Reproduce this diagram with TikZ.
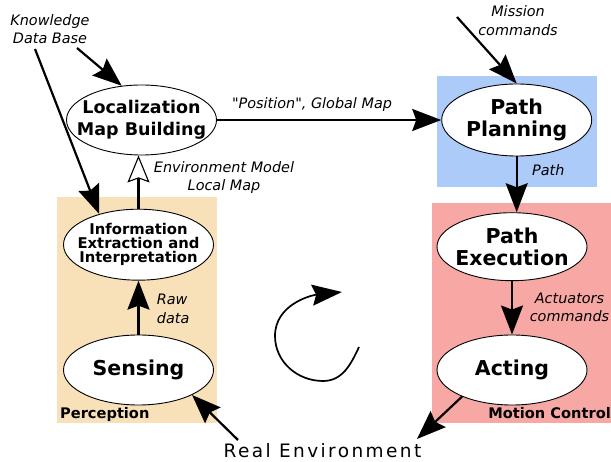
\documentclass[tikz,border=0pt]{standalone}
\usepackage{fontspec}
\setmainfont{DejaVu Sans}[Ligatures=TeXOff]
\usetikzlibrary{arrows.meta,shapes.geometric}

\definecolor{planblue}{HTML}{ADCBF9}
\definecolor{motionred}{HTML}{F7A8A4}
\definecolor{perceptan}{HTML}{F8E1B8}
\newcommand\tiplength{29pt}
\newcommand\tipwidth{22pt}

\begin{document}
\begin{tikzpicture}[x=1pt,y=1pt,
    proc/.style={ellipse,draw,fill=white,line width=0.9pt,minimum width=150pt,
      minimum height=70pt,inner xsep=-12pt,inner ysep=0pt,align=center},
    big/.style={font=\bfseries\fontsize{20.5}{22.5}\selectfont},
    lbl/.style={font=\itshape\fontsize{14.4}{18.5}\selectfont,inner sep=0pt,align=center},
    boxlbl/.style={font=\bfseries\fontsize{14.6}{16}\selectfont,inner sep=0pt},
    flow/.style={line width=2.2pt,-{Stealth[length=\tiplength,width=\tipwidth,inset=4pt]}},
  ]
  \useasboundingbox (0,0) rectangle (611,461);

  % coloured blocks
  \fill[perceptan] (57.3,37.7) rectangle (217,264.3);
  \fill[planblue] (437,274.3) rectangle (596.7,385);
  \fill[motionred] (432,37.7) rectangle (611,257.7);
  \node[boxlbl,anchor=base west] (perc) at (60,42) {Perception};
  \node[boxlbl,anchor=base east] (motion) at (611,42) {Motion Control};

  % processes
  \node[proc,font=\bfseries\fontsize{17.5}{22}\selectfont] (loc) at (141.5,341) {Localization\\Map Building};
  \node[proc,big,minimum height=72pt] (plan) at (516.7,341) {Path\\Planning};
  \node[proc,font=\bfseries\fontsize{14.8}{13.8}\selectfont,minimum height=71pt] (info) at (138.5,216.3)
    {Information\\Extraction and\\Interpretation};
  \node[proc,big] (sens) at (138.5,91) {Sensing};
  \node[proc,big,minimum height=68pt] (exec) at (512,214.3) {Path\\Execution};
  \node[proc,big] (act) at (512,91) {Acting};
  \node[font=\fontsize{18.5}{20}\selectfont\addfontfeature{LetterSpace=13},inner sep=0pt,anchor=base]
    (real) at (322.5,3.7) {Real Environment};

  % labels
  \node[lbl] (kb) at (50,431.7) {Knowledge\\Data Base};
  \node[lbl] (mission) at (518,440.2) {Mission\\commands};
  \node[lbl] (envmodel) at (224,283.4) {Environment Model\\Local Map};
  \node[lbl,align=left,anchor=west] (raw) at (156.7,152) {Raw\\data};
  \node[lbl] (actcmd) at (569.5,153.8) {Actuators\\commands};
  \node[lbl,anchor=base west] (pathlbl) at (532,285) {Path};
  \node[lbl,anchor=base] (poslbl) at (312,352.7) {"Position", Global Map};

  % connectors
  \coordinate (kbA) at (35,412);
  \coordinate (kbB) at (77,413);
  \coordinate (missionA) at (457,444);
  \draw[flow] (kbA) -- (info.142);
  \draw[flow] (kbB) -- (loc.120);
  \draw[flow] (missionA) -- (plan.north);
  \draw[flow] (loc.east) -- (plan.west);
  \draw[flow] (plan.south) -- (plan.south |- exec.north);
  \draw[flow] (exec.south) -- (act.north);
  \draw[flow] (sens.north) -- (info.south);
  \draw[line width=2.2pt,-{Stealth[open,fill=white,line width=1.1pt,length=27pt,width=22pt,inset=4pt]}]
    (info.north) -- (info.north |- loc.south);
  \draw[flow] (act.208) -- ([shift={(94.5pt,18.3pt)}]real.base);
  \draw[flow] ([shift={(-84.5pt,17.3pt)}]real.base) -- (sens.-25);

  % cycle
  \draw[line width=1.7pt,-{Stealth[length=30pt,width=21pt,inset=4pt]}]
    (359,114) to[out=-115,in=0] (323,80) to[out=180,in=-90] (275,125) to[out=90,in=186] (342,169);
\end{tikzpicture}
\end{document}
